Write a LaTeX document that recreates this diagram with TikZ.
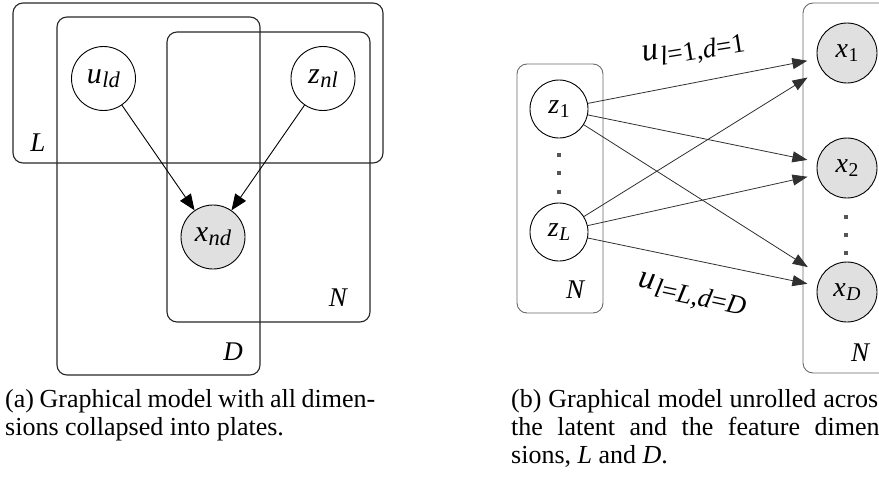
\documentclass[tikz,border=0pt]{standalone}
\usepackage{fontspec}
\setmainfont{Liberation Serif}
\usepackage{graphicx}
\usetikzlibrary{arrows.meta}

\definecolor{obsfill}{HTML}{E0E0E0}
\definecolor{plategray}{HTML}{6A6A6A}
\definecolor{edgegray}{HTML}{303030}
\definecolor{dotgray}{HTML}{555555}

% smaller, lowered index after a symbol
\newcommand{\lowidx}[2][0.75]{\kern0.5pt\raisebox{-0.12em}{\scalebox{#1}{#2}}}
% edge-label index, set a little lower
\newcommand{\edgeidx}[1]{\kern0.5pt\raisebox{-0.2em}{\scalebox{0.82}{#1}}}

\begin{document}
\begin{tikzpicture}[x=1pt,y=-1pt,
  latent/.style={circle, draw=black, line width=0.9pt, inner sep=0pt,
    minimum size=64pt, font=\fontsize{30}{32}\selectfont},
  observed/.style={latent, fill=obsfill},
  latentB/.style={latent, minimum size=58pt, font=\fontsize{28}{30}\selectfont},
  observedB/.style={latentB, minimum size=60pt, fill=obsfill},
  plate/.style={draw=black!85, line width=1.1pt, rounded corners=10pt},
  plateB/.style={draw=plategray, line width=0.9pt, rounded corners=10pt},
  platelabel/.style={inner sep=0pt, font=\fontsize{27}{29}\selectfont\itshape},
  arrowA/.style={-{Triangle[length=16pt,width=13pt]}, line width=0.9pt},
  arrowB/.style={-{Triangle[length=15pt,width=11pt]}, draw=edgegray,
    line width=0.8pt},
  dotsq/.style={fill=dotgray, inner sep=0pt, minimum size=4pt},
  edgelabel/.style={inner sep=0pt, font=\fontsize{33}{35}\selectfont},
  captext/.style={inner sep=0pt, anchor=base west, font=\fontsize{26}{28}\selectfont}
]
\useasboundingbox (0,0) rectangle (879,480);
\clip (0,0) rectangle (879,480);

% ---------------- (a) plate model ----------------
\draw[plate] (13,3) rectangle (383,163);
\draw[plate] (57,17) rectangle (260,375);
\draw[plate] (167,32) rectangle (370,322);

\node[platelabel] (labL) at (38,143) {L};
\node[platelabel] (labN) at (338,298) {N};
\node[platelabel] (labD) at (233,352) {D};

\node[latent] (u) at (103.5,78.5) {\textit{u}\lowidx{\textit{ld}}};
\node[latent] (z) at (323,78.5) {\textit{z}\lowidx{\textit{nl}}};
\node[observed] (x) at (213,237) {\textit{x}\lowidx{\textit{nd}}};

\draw[arrowA] (u) -- (x);
\draw[arrowA] (z) -- (x);

% ---------------- (b) unrolled model ----------------
\draw[plateB] (517,64) rectangle (603,313);
\draw[plateB] (900,373) -- (803,373) -- (803,3) -- (900,3);

\node[platelabel] (labNz) at (575,290) {N};
\node[platelabel] (labNx) at (860,353) {N};

\node[latentB] (z1) at (559,109) {\textit{z}\lowidx[0.7]{1}};
\node[latentB] (zL) at (559,232) {\textit{z}\lowidx[0.7]{\textit{L}}};

\node[observedB] (x1) at (847,53) {\textit{x}\lowidx[0.7]{1}};
\node[observedB] (x2) at (847,168) {\textit{x}\lowidx[0.7]{2}};
\node[observedB] (xD) at (847,292) {\textit{x}\lowidx[0.7]{\textit{D}}};

\node[dotsq] (dz1) at (559,155) {};
\node[dotsq] (dz2) at (559,173) {};
\node[dotsq] (dz3) at (559,192) {};
\node[dotsq] (dx1) at (846,217) {};
\node[dotsq] (dx2) at (846,235) {};
\node[dotsq] (dx3) at (846,253) {};

\draw[arrowB, shorten >=10pt] (z1) -- (x1);
\draw[arrowB, shorten >=10pt] (z1) -- (x2);
\draw[arrowB, shorten >=16pt] (z1) -- (xD);
\draw[arrowB, shorten >=16pt] (zL) -- (x1);
\draw[arrowB, shorten >=10pt] (zL) -- (x2);
\draw[arrowB, shorten >=10pt] (zL) -- (xD);

\node[edgelabel, rotate=9] (lab11) at (694,51)
  {\textit{u}\edgeidx{\textit{l}=1,\textit{d}=1}};
\node[edgelabel, rotate=-12] (labLD) at (692,296)
  {\textit{u}\edgeidx{\textit{l}=\textit{L},\textit{d}=\textit{D}}};

% ---------------- captions ----------------
\node[captext] (capa1) at (5,407)
  {\hbox to 370pt{(a) Graphical model with all dimen-}};
\node[captext] (capa2) at (5,435) {sions collapsed into plates.};

\node[captext] (capb1) at (511,407)
  {\hbox to 377pt{(b) Graphical model unrolled across}};
\node[captext] (capb2) at (511,435)
  {\hbox to 377pt{the latent and the feature dimen-}};
\node[captext] (capb3) at (511,463) {sions, \textit{L} and \textit{D}.};
\end{tikzpicture}
\end{document}
